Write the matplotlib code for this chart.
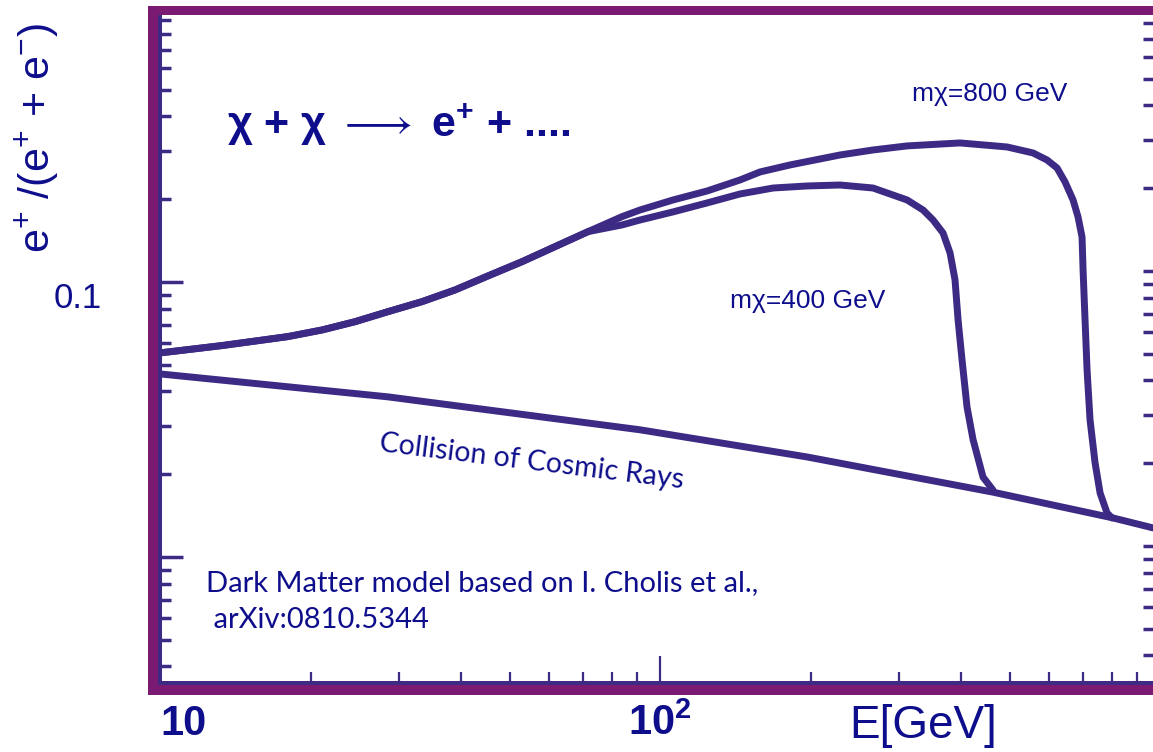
import matplotlib
matplotlib.use('Agg')
import matplotlib.pyplot as plt
from matplotlib.patches import Rectangle
from matplotlib.ticker import NullFormatter
from matplotlib import font_manager

# positron fraction e+/(e+ + e-) against energy (GeV)
shared_E = [10, 13.30, 18.03, 21.09, 24.55, 28.58, 33.42, 38.9, 45.29, 52.97, 61.66, 71.78]
shared_R = [0.0552, 0.0587, 0.0633, 0.0669, 0.0717, 0.0780, 0.0848, 0.0935, 0.1052, 0.1185,
            0.1344, 0.1524]

m400_E = shared_E + [83.95, 91.2, 106.2, 124.2, 144.5, 168.3, 196.8, 229.1, 266.7, 311.9,
                     335.7, 351.6, 368.1, 380.2, 389.0, 394.5, 401.8, 411.1, 422.7, 442.6, 463.4]
m400_R = shared_R + [0.1612, 0.168, 0.1798, 0.1938, 0.2089, 0.2196, 0.2234, 0.2252, 0.2196,
                     0.1987, 0.1827, 0.168, 0.1507, 0.1275, 0.1017, 0.0728, 0.0520, 0.0351,
                     0.0267, 0.0195, 0.0175]

m800_E = shared_E + [83.95, 91.2, 106.2, 124.2, 144.5, 158.5, 182.0, 229.1, 266.7, 311.9,
                     398.1, 494.3, 557.2, 594.3, 622.3, 645.7, 669.9, 685.5, 698.2, 701.5,
                     707.9, 714.5, 724.4, 741.3, 758.6, 783.4, 801.7]
m800_R = shared_R + [0.1728, 0.1827, 0.1987, 0.2142, 0.2349, 0.2512, 0.2664, 0.2896, 0.3020,
                     0.3124, 0.3203, 0.3097, 0.2945, 0.2777, 0.2597, 0.2310, 0.1987, 0.1723,
                     0.1457, 0.1106, 0.0728, 0.0479, 0.0315, 0.0220, 0.0171, 0.01445, 0.01386]

bg_E = [10, 28.6, 91.2, 196.8, 463.4, 805.4, 968.3]
bg_R = [0.0463, 0.0382, 0.0290, 0.0231, 0.0172, 0.01386, 0.01275]

x_ticks = [10, 100]
x_ticklabels = ['10', r'$\mathbf{10^{2}}$']
y_ticks = [0.01, 0.1]
y_ticklabels = ['', '0.1']

LINE = '#3d2a84'
NAVY = '#0e0e8c'
FRAME = '#7b1a73'
sans = ['Liberation Sans', 'DejaVu Sans']
calib = ['Lato', 'DejaVu Sans']

installed = {f.name for f in font_manager.fontManager.ttflist}
if 'Liberation Sans Narrow' in installed:
    narrow = ['Liberation Sans Narrow', 'DejaVu Sans']
    fs_xtick, fs_e, fs_m = 36, 40, 22
else:
    narrow = sans
    fs_xtick, fs_e, fs_m = 30, 33, 19

plt.rcParams['mathtext.fontset'] = 'custom'
plt.rcParams['mathtext.rm'] = 'Liberation Sans'
plt.rcParams['mathtext.it'] = 'Liberation Sans:italic'
plt.rcParams['mathtext.bf'] = narrow[0] + ':bold'
plt.rcParams['font.family'] = sans

W, H = 1153, 752
fig = plt.figure(figsize=(W / 100, H / 100), dpi=100)


def fx(p):
    return p / W


def fy(p):
    return 1 - p / H


ax = fig.add_axes([fx(160), fy(683), (W - 160) / W, (683 - 15) / H])

for E, R in [(bg_E, bg_R), (m400_E, m400_R), (m800_E, m800_R)]:
    ax.plot(E, R, color=LINE, lw=5, solid_joinstyle='round', solid_capstyle='round')

ax.set_xscale('log')
ax.set_yscale('log')
ax.set_xlim(10, 968)
ax.set_ylim(0.00348, 0.935)

ax.set_xticks(x_ticks, x_ticklabels)
ax.set_yticks(y_ticks, y_ticklabels)
ax.xaxis.set_minor_formatter(NullFormatter())
ax.yaxis.set_minor_formatter(NullFormatter())

ax.tick_params(axis='x', which='both', direction='in', color=LINE, width=1.6, top=False,
               labelsize=fs_xtick, labelcolor=NAVY)
ax.tick_params(axis='x', which='major', length=19.5, pad=15)
ax.tick_params(axis='x', which='minor', length=8)
ax.tick_params(axis='y', which='both', direction='in', color=LINE, width=2.5, right=False,
               labelsize=25, labelcolor=NAVY)
ax.tick_params(axis='y', which='major', length=16.5, pad=42)
ax.tick_params(axis='y', which='minor', length=8)
for lab in ax.get_xticklabels():
    lab.set_fontweight('bold')
    lab.set_family(narrow)
ax.get_xticklabels()[0].set_ha('left')
for lab in ax.get_yticklabels():
    lab.set_va('top')

for s in ['top', 'right']:
    ax.spines[s].set_visible(False)
for s in ['left', 'bottom']:
    ax.spines[s].set_color(LINE)
    ax.spines[s].set_linewidth(2.9)

# right-hand tick marks sit a little higher than the left ones in the original
ax2 = ax.twinx()
ax2.set_yscale('log')
ax2.set_ylim(0.00348 / 1.096, 0.935 / 1.096)
ax2.yaxis.set_major_formatter(NullFormatter())
ax2.yaxis.set_minor_formatter(NullFormatter())
ax2.tick_params(axis='y', which='both', direction='in', color=LINE, width=2.5, length=7)
for s in ax2.spines.values():
    s.set_visible(False)

# magenta outer frame
for x0, y0, w, h in [(148, 6, 10, 689), (148, 6, W - 148, 9), (148, 685, W - 148, 10)]:
    fig.add_artist(Rectangle((fx(x0), fy(y0 + h)), w / W, h / H, transform=fig.transFigure,
                             facecolor=FRAME, edgecolor='none', zorder=5))

ax.set_ylabel('e$^{+}$ /(e$^{+}$ + e$^{-}$)', fontsize=31, color=NAVY, va='center')
ax.yaxis.set_label_coords((37 - 160) / (W - 160), (683 - 138) / (683 - 15))

fig.text(fx(923), fy(726), 'E[GeV]', fontsize=fs_e, family=narrow, color=NAVY,
         ha='center', va='center')

fig.text(fx(399), fy(125), r'χ + χ $\longrightarrow$ e$^{\mathbf{+}}$ + ....', fontsize=31,
         fontweight='bold', color=NAVY, ha='center', va='center')
fig.text(fx(990), fy(94), 'mχ=800 GeV', fontsize=fs_m, family=narrow, color=NAVY,
         ha='center', va='center')
fig.text(fx(808), fy(301), 'mχ=400 GeV', fontsize=fs_m, family=narrow, color=NAVY,
         ha='center', va='center')
fig.text(fx(532), fy(462), 'Collision of Cosmic Rays', fontsize=20.5, family=calib, color=NAVY,
         ha='center', va='center', rotation=-7, rotation_mode='anchor')
fig.text(fx(206), fy(570), 'Dark Matter model based on I. Cholis et al.,\n arXiv:0810.5344',
         fontsize=21, family=calib, color=NAVY, ha='left', va='top', linespacing=1.5)

fig.savefig('out.png', dpi=100)
